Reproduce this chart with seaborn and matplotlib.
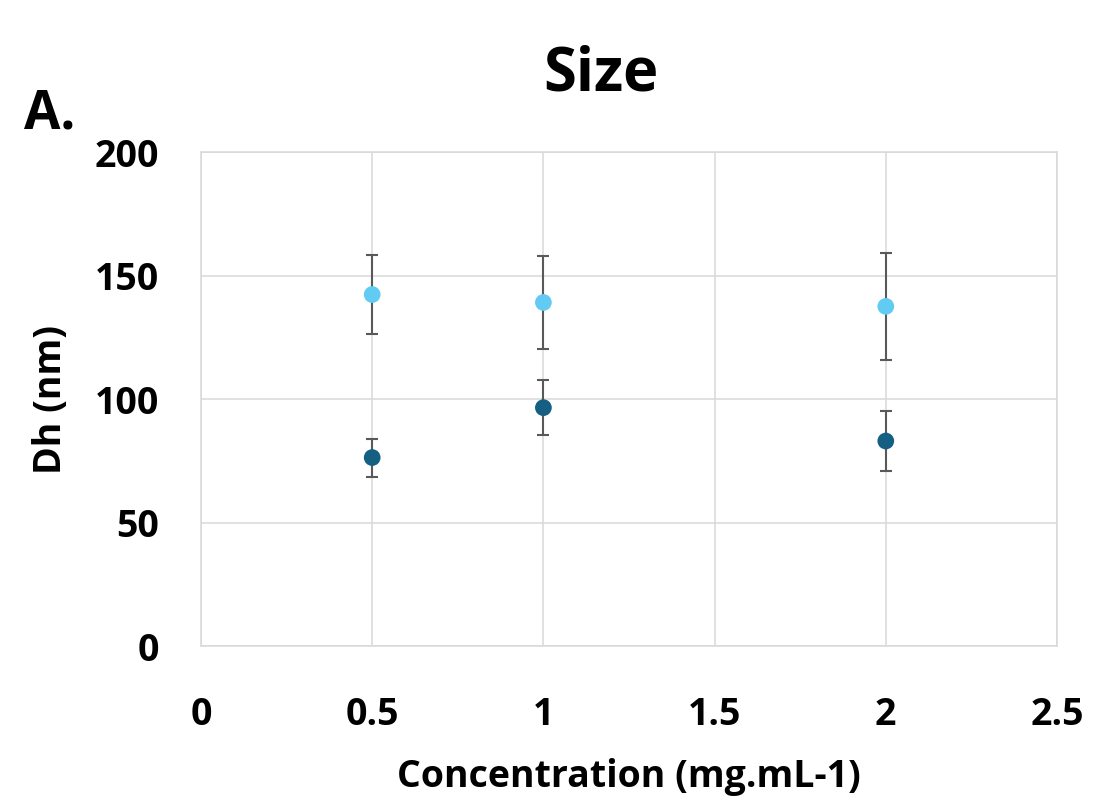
import numpy as np
import pandas as pd
import matplotlib
matplotlib.use("Agg")
import matplotlib.pyplot as plt
import seaborn as sns

# values
conc = [0.5, 1, 2]
dh_light = [142.3, 139.1, 137.5]
err_light = [16.1, 19.0, 21.5]
dh_dark = [76.3, 96.5, 83.0]
err_dark = [7.7, 11.0, 12.2]

df = pd.DataFrame({
    "Concentration": conc * 2,
    "Dh": dh_light + dh_dark,
    "err": err_light + err_dark,
    "Series": ["light"] * 3 + ["dark"] * 3,
})

sns.set_theme(style="white")
plt.rcParams["font.family"] = ["Open Sans", "DejaVu Sans"]
plt.rcParams["font.weight"] = "bold"
plt.rcParams["text.color"] = "black"
plt.rcParams["axes.labelcolor"] = "black"
plt.rcParams["xtick.color"] = "black"
plt.rcParams["ytick.color"] = "black"

fig = plt.figure(figsize=(10.96, 8.01), dpi=100)
ax = fig.add_axes([0.1834, 0.1935, 0.781, 0.6167])

grid_c = "#D9D9D9"
ax.set_xlim(0, 2.5)
ax.set_ylim(0, 200)
ax.set_xticks(np.arange(0, 2.51, 0.5))
ax.set_yticks(np.arange(0, 201, 50))
ax.set_xticklabels(["0", "0.5", "1", "1.5", "2", "2.5"])
ax.grid(True, color=grid_c, linewidth=1.1)
ax.set_axisbelow(True)
for sp in ax.spines.values():
    sp.set_color(grid_c)
    sp.set_linewidth(1.1)

# error bars
ax.errorbar(df["Concentration"], df["Dh"], yerr=df["err"], fmt="none",
            ecolor="#595959", elinewidth=1.5, capsize=4.2, capthick=1.5, zorder=2)

sns.scatterplot(data=df, x="Concentration", y="Dh", hue="Series",
                palette={"light": "#61CBF4", "dark": "#156082"},
                s=145, edgecolor="none", legend=False, ax=ax, zorder=3)

ax.tick_params(axis="both", length=0, labelsize=27, colors="black")
ax.tick_params(axis="x", pad=36)
ax.tick_params(axis="y", pad=30)
for lab in ax.get_xticklabels() + ax.get_yticklabels():
    lab.set_fontweight("bold")

ax.set_xlabel("Concentration (mg.mL-1)", fontsize=27, fontweight="bold",
              labelpad=17, color="black")
ax.set_ylabel("Dh (nm)", fontsize=27, fontweight="bold", labelpad=18, color="black")
fig.text(0.548, 0.906, "Size", fontsize=43, fontweight="bold", color="black",
         ha="center", va="center")
fig.text(0.022, 0.84, "A.", fontsize=38, fontweight="bold", color="black")

fig.savefig("out.png", dpi=100)
